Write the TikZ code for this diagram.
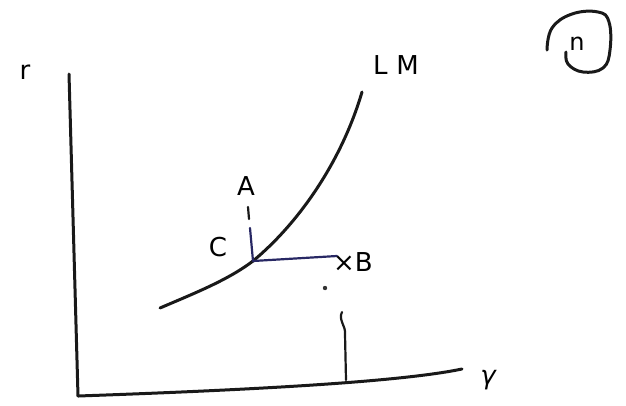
\documentclass[tikz,border=0pt]{standalone}
\usepackage{fontspec}
\setmainfont{DejaVu Sans}
\begin{document}
\begin{tikzpicture}[x=1pt,y=-1pt,
  ink/.style={line width=3pt, line cap=round, line join=round, black!90},
  blueink/.style={line width=2.2pt, line cap=round, color={rgb,255:red,40;green,40;blue,100}},
  lbl/.style={inner sep=0pt, font=\fontsize{26}{28}\selectfont}]
\useasboundingbox (0,0) rectangle (626,405);
% axes
\coordinate (top) at (69,74);
\coordinate (origin) at (78,396);
\coordinate (xend) at (462,369);
\draw[ink] (top) -- (origin);
\draw[ink] (origin) .. controls (250,390) and (400,382) .. (xend);
\node[lbl] (r) at (25,72) {r};
\node[lbl] (y) at (488,380) {\itshape γ};
% LM curve
\coordinate (C) at (253,261);
\draw[ink] (160,308) .. controls (195,293) and (228,280) .. (C)
  .. controls (300,222) and (342,160) .. (362,92);
\node[lbl] (LM) at (396,65) {L\,\,M};
% point C and lines
\coordinate (Aend) at (250,228);
\coordinate (Bend) at (337,256);
\draw[blueink] (C) -- (Aend);
\draw[blueink] (C) -- (Bend);
\draw[ink, line width=2.2pt] (248,207) -- (249,219);
\node[lbl] (A) at (246,186) {A};
\node[lbl] (Cl) at (218,247) {C};
\node[lbl] (B) at (353,262) {×B};
\fill[black!80] (325,288) circle[radius=2.2pt];
% tick on y axis
\draw[ink, line width=2.2pt] (342,312) .. controls (338,320) and (346,326) .. (345,334) -- (346,380);
% circled n
\draw[ink] plot[smooth, tension=0.7] coordinates {(547,50) (552,28) (572,14) (598,12) (609,22) (610,50) (603,68) (583,72) (568,64) (566,52)};
\node[lbl, font=\fontsize{24}{26}\selectfont] (n) at (577,44) {n};
\end{tikzpicture}
\end{document}
